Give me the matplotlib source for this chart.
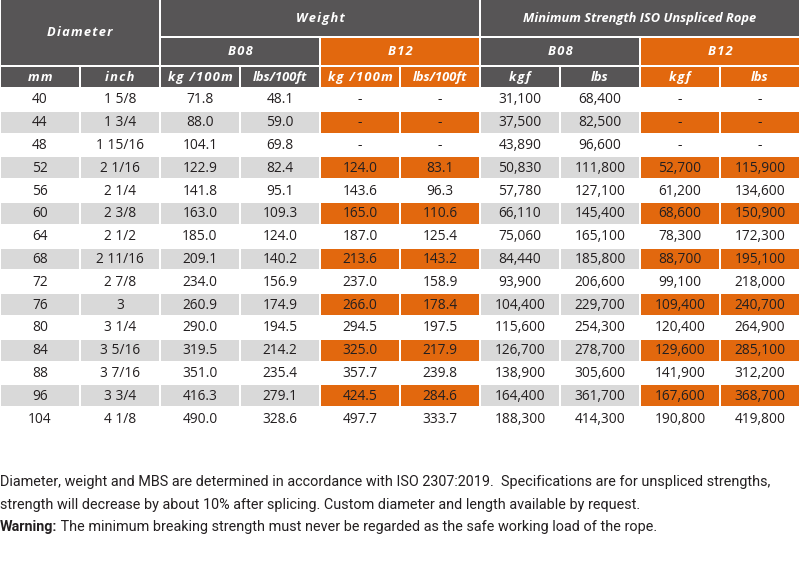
import matplotlib
matplotlib.use("Agg")
import matplotlib.pyplot as plt
from matplotlib.patches import Rectangle
from matplotlib import font_manager

# ---------------- data ----------------
mm = [40, 44, 48, 52, 56, 60, 64, 68, 72, 76, 80, 84, 88, 96, 104]
inch = ['1 5/8', '1 3/4', '1 15/16', '2 1/16', '2 1/4', '2 3/8', '2 1/2', '2 11/16',
        '2 7/8', '3', '3 1/4', '3 5/16', '3 7/16', '3 3/4', '4 1/8']
b08_kg = [71.8, 88.0, 104.1, 122.9, 141.8, 163.0, 185.0, 209.1, 234.0, 260.9, 290.0,
          319.5, 351.0, 416.3, 490.0]
b08_lbs = [48.1, 59.0, 69.8, 82.4, 95.1, 109.3, 124.0, 140.2, 156.9, 174.9, 194.5,
           214.2, 235.4, 279.1, 328.6]
b12_kg = [None, None, None, 124.0, 143.6, 165.0, 187.0, 213.6, 237.0, 266.0, 294.5,
          325.0, 357.7, 424.5, 497.7]
b12_lbs = [None, None, None, 83.1, 96.3, 110.6, 125.4, 143.2, 158.9, 178.4, 197.5,
           217.9, 239.8, 284.6, 333.7]
b08_kgf = [31100, 37500, 43890, 50830, 57780, 66110, 75060, 84440, 93900, 104400,
           115600, 126700, 138900, 164400, 188300]
b08_lbf = [68400, 82500, 96600, 111800, 127100, 145400, 165100, 185800, 206600, 229700,
           254300, 278700, 305600, 361700, 414300]
b12_kgf = [None, None, None, 52700, 61200, 68600, 78300, 88700, 99100, 109400, 120400,
           129600, 141900, 167600, 190800]
b12_lbf = [None, None, None, 115900, 134600, 150900, 172300, 195100, 218000, 240700,
           264900, 285100, 312200, 368700, 419800]

unit_labels = ['mm', 'inch', 'kg /100m', 'lbs/100ft', 'kg /100m', 'lbs/100ft',
               'kgf', 'lbs', 'kgf', 'lbs']
group_labels = ['Diameter', 'Weight', 'Minimum Strength ISO Unspliced Rope']
grade_labels = ['B08', 'B12', 'B08', 'B12']
footer_lines = [
    "Diameter, weight and MBS are determined in accordance with ISO 2307:2019.  Specifications are for unspliced strengths,",
    "strength will decrease by about 10% after splicing. Custom diameter and length available by request.",
]
warning_bold = "Warning:"
warning_rest = " The minimum breaking strength must never be regarded as the safe working load of the rope."

# ---------------- style ----------------
DARK = '#575556'
ORANGE = '#e2680e'
GREY = '#d9d9d9'
TXT = '#231f20'
W, H = 800, 580
ncol = 10
colw = W / ncol
h_rows = [0, 37, 66, 88]       # header row boundaries
row_h = 22.8
orange_cols = {4, 5, 8, 9}
gap = 1.0

FONT = ['Open Sans', 'DejaVu Sans']
_names = {f.name for f in font_manager.fontManager.ttflist}
FOOT = ['Liberation Sans Narrow' if 'Liberation Sans Narrow' in _names else 'Roboto',
        'DejaVu Sans']


def track(s):
    return '\u200a'.join(s)


def fmt1(v):
    return '-' if v is None else f'{v:.1f}'


def fmtk(v):
    return '-' if v is None else f'{v:,}'


cols = [[str(v) for v in mm], inch,
        [fmt1(v) for v in b08_kg], [fmt1(v) for v in b08_lbs],
        [fmt1(v) for v in b12_kg], [fmt1(v) for v in b12_lbs],
        [fmtk(v) for v in b08_kgf], [fmtk(v) for v in b08_lbf],
        [fmtk(v) for v in b12_kgf], [fmtk(v) for v in b12_lbf]]

fig = plt.figure(figsize=(8, 5.8), dpi=100)
ax = fig.add_axes([0, 0, 1, 1])
ax.set_xlim(0, W)
ax.set_ylim(H, 0)
ax.axis('off')


def cell(x0, x1, y0, y1, color):
    ax.add_patch(Rectangle((x0 + gap, y0 + gap), (x1 - x0) - 2 * gap, (y1 - y0) - 2 * gap,
                           facecolor=color, edgecolor='none', lw=0))


def htext(x, y, s, size=9.3):
    ax.text(x, y, s, ha='center', va='center', color='white', fontsize=size,
            fontweight='bold', fontstyle='italic', family=FONT)


# header row 1
cell(0, 2 * colw, -gap, h_rows[2], DARK)
htext(colw, h_rows[2] / 2, track(group_labels[0]))
cell(2 * colw, 6 * colw, -gap, h_rows[1], DARK)
htext(4 * colw, h_rows[1] / 2, track(group_labels[1]))
cell(6 * colw, 10 * colw, -gap, h_rows[1], DARK)
htext(8 * colw, h_rows[1] / 2, group_labels[2])
# header row 2
for g, lab in enumerate(grade_labels):
    c0 = 2 + 2 * g
    color = ORANGE if c0 in orange_cols else DARK
    cell(c0 * colw, (c0 + 2) * colw, h_rows[1], h_rows[2], color)
    htext((c0 + 1) * colw, (h_rows[1] + h_rows[2]) / 2, track(lab))
# header row 3
for c, lab in enumerate(unit_labels):
    color = ORANGE if c in orange_cols else DARK
    cell(c * colw, (c + 1) * colw, h_rows[2], h_rows[3], color)
    s = lab if lab.startswith('lbs') else track(lab)
    htext((c + 0.5) * colw, (h_rows[2] + h_rows[3]) / 2 + 0.5, s)

# data rows
for r in range(len(mm)):
    y0 = h_rows[3] + r * row_h
    y1 = y0 + row_h
    shaded = (r % 2 == 1)
    for c in range(ncol):
        if shaded:
            color = ORANGE if c in orange_cols else GREY
            cell(c * colw, (c + 1) * colw, y0, y1, color)
        ax.text((c + 0.5) * colw, (y0 + y1) / 2 + 0.5, cols[c][r], ha='center', va='center',
                color=TXT, fontsize=9.9, family=FONT)

# footer
fig.canvas.draw()
renderer = fig.canvas.get_renderer()
fy = [482, 504.5, 526.5]
t1 = ax.text(0, fy[0], footer_lines[0], ha='left', va='center', color=TXT, fontsize=10, family=FOOT)
bb = t1.get_window_extent(renderer)
fs = 10 * 767 / bb.width
t1.set_fontsize(fs)
ax.text(0, fy[1], footer_lines[1], ha='left', va='center', color=TXT, fontsize=fs, family=FOOT)
tw = ax.text(0, fy[2], warning_bold, ha='left', va='center', color=TXT, fontsize=fs,
             fontweight='bold', family=FOOT)
fig.canvas.draw()
bbw = tw.get_window_extent(renderer)
x_after = ax.transData.inverted().transform((bbw.x1, 0))[0]
ax.text(x_after, fy[2], warning_rest, ha='left', va='center', color=TXT, fontsize=fs, family=FOOT)

fig.savefig('out.png', dpi=100, facecolor='white')
